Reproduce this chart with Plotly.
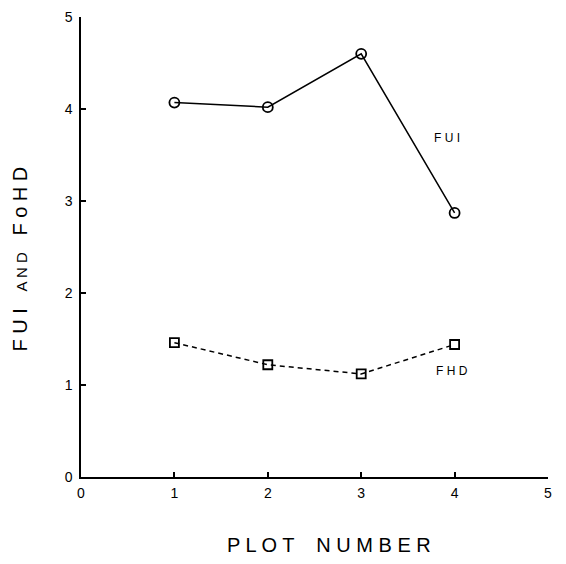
import plotly.graph_objects as go

# Plot numbers and index values
plots = [1, 2, 3, 4]
fui = [4.07, 4.02, 4.60, 2.87]
fhd = [1.46, 1.22, 1.12, 1.44]
tick_vals = [0, 1, 2, 3, 4, 5]
tick_text = ["0", "1", "2", "3", "4", "5"]

FONT = "Liberation Sans, Arial, sans-serif"

fig = go.Figure()

fig.add_trace(go.Scatter(
    x=plots, y=fui, mode="lines+markers", name="FUI",
    line=dict(color="black", width=1.5),
    marker=dict(symbol="circle-open", size=10, color="black", line=dict(width=1.8)),
))
fig.add_trace(go.Scatter(
    x=plots, y=fhd, mode="lines+markers", name="FHD",
    line=dict(color="black", width=1.5, dash="5px,4px"),
    marker=dict(symbol="square-open", size=9, color="black", line=dict(width=1.8)),
))

# Series labels
fig.add_annotation(x=3.92, y=3.69, text="F U I", showarrow=False,
                   font=dict(family=FONT, size=12, color="black"))
fig.add_annotation(x=3.97, y=1.155, text="F H D", showarrow=False,
                   font=dict(family=FONT, size=12, color="black"))

# Axis titles
fig.add_annotation(xref="paper", yref="paper", x=0.531, y=-0.147,
                   xanchor="center", yanchor="middle", showarrow=False,
                   text="P L O T &nbsp;&nbsp; N U M B E R",
                   font=dict(family=FONT, size=20, color="black"))
fig.add_annotation(xref="paper", yref="paper", x=-0.1317, y=0.474,
                   xanchor="center", yanchor="middle", showarrow=False,
                   textangle=-90,
                   text="F U I &nbsp;&nbsp;<span style='font-size:15px'>A N D</span>&nbsp;&nbsp; F o H D",
                   font=dict(family=FONT, size=20, color="black"))

axis_common = dict(
    range=[0, 5], tickvals=tick_vals, ticktext=tick_text,
    showgrid=False, zeroline=False, showline=True, linecolor="black",
    linewidth=1.5, ticks="inside", ticklen=5, tickwidth=1.5, tickcolor="black",
    tickfont=dict(family=FONT, size=14, color="black"), fixedrange=True,
)

fig.update_layout(
    width=566, height=564,
    margin=dict(l=81, r=18, t=9, b=87),
    paper_bgcolor="white", plot_bgcolor="white",
    showlegend=False,
    xaxis=dict(axis_common, ticklabelstandoff=2),
    yaxis=dict(axis_common, ticklabelstandoff=4),
)

fig.write_html("out.html")
